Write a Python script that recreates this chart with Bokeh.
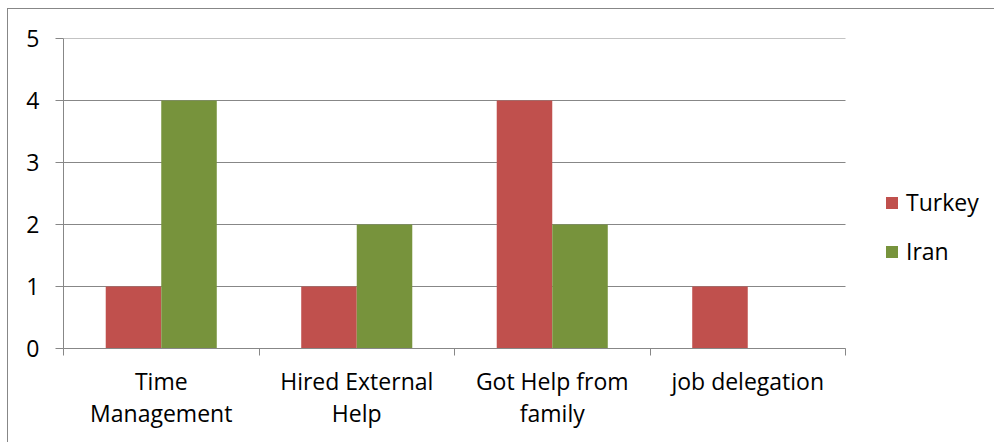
import numpy as np
from bokeh.plotting import figure
from bokeh.models import (ColumnDataSource, Range1d, LinearAxis, CustomJSTickFormatter,
                          FixedTicker, Legend, LegendItem)
from bokeh.embed import file_html
from bokeh.resources import INLINE

categories = ["Time Management", "Hired External Help", "Got Help from family", "job delegation"]
tick_labels = ["Time\nManagement", "Hired External\nHelp", "Got Help from\nfamily", "job delegation"]
turkey = [1, 1, 4, 1]
iran = [4, 2, 2, 0]
y_ticks = [0, 1, 2, 3, 4, 5]

RED = "#C0504D"
GREEN = "#77933C"
GRID = "#878787"
FONT = "Open Sans"
FS = "23px"

n = len(categories)
centers = np.arange(n) + 0.5
bw = 0.284
# the plotting area covers 782 of the 932 px frame; the rest holds the legend
x_end = n * 932 / 782

src = ColumnDataSource(dict(cat=categories, turkey=turkey, iran=iran,
                            xt=centers - bw / 2, xi=centers + bw / 2))
grid_src = ColumnDataSource(dict(y=y_ticks, x0=[0] * len(y_ticks), x1=[n] * len(y_ticks)))

p = figure(x_range=Range1d(0, x_end), y_range=Range1d(0, 5), width=987, height=434,
           output_backend="svg", toolbar_location=None,
           x_axis_location=None, y_axis_location=None,
           min_border_left=55, min_border_top=29, min_border_right=0, min_border_bottom=95)
p.styles = {"margin-left": "7px", "margin-top": "8px",
            "border-left": f"1px solid {GRID}", "border-top": f"1px solid {GRID}"}
p.outline_line_color = None
p.background_fill_color = "white"
p.border_fill_color = "white"
p.center = []

# y axis
yax = LinearAxis(ticker=FixedTicker(ticks=y_ticks))
yax.axis_line_color = GRID
yax.major_tick_line_color = GRID
yax.major_tick_out = 8
yax.major_tick_in = 0
yax.minor_tick_line_color = None
yax.major_label_standoff = 16
yax.major_label_text_font = FONT
yax.major_label_text_font_size = FS
yax.major_label_text_color = "black"
p.add_layout(yax, "left")

# boundary ticks axis (no labels)
bax = LinearAxis(ticker=FixedTicker(ticks=list(range(n + 1))), bounds=(0, n),
                 formatter=CustomJSTickFormatter(code="return ''"))
bax.axis_line_color = GRID
bax.major_tick_line_color = GRID
bax.major_tick_out = 7
bax.major_tick_in = 0
bax.minor_tick_line_color = None
bax.major_label_standoff = 0
p.add_layout(bax, "below")

# category label axis
cax = LinearAxis(ticker=FixedTicker(ticks=list(centers)), bounds=(0, n))
cax.axis_line_color = None
cax.major_tick_line_color = None
cax.minor_tick_line_color = None
cax.major_tick_out = 0
cax.major_tick_in = 0
cax.major_label_standoff = 9
cax.major_label_text_font = FONT
cax.major_label_text_font_size = FS
cax.major_label_text_color = "black"
cax.major_label_text_line_height = 1.0
cax.major_label_overrides = {float(c): t for c, t in zip(centers, tick_labels)}
p.add_layout(cax, "below")

# horizontal gridlines over the category area only
p.segment(x0="x0", x1="x1", y0="y", y1="y", source=grid_src, line_color=GRID, line_width=1)

r1 = p.vbar(x="xt", top="turkey", width=bw, source=src, fill_color=RED, line_color=None)
r2 = p.vbar(x="xi", top="iran", width=bw, source=src, fill_color=GREEN, line_color=None)

legend = Legend(items=[LegendItem(label="Turkey", renderers=[r1]),
                       LegendItem(label="Iran", renderers=[r2])],
                location=(821, 81), orientation="vertical")
legend.border_line_color = None
legend.background_fill_alpha = 0
legend.margin = 0
legend.padding = 0
legend.glyph_width = 15
legend.glyph_height = 15
legend.label_height = 20
legend.spacing = 17
legend.label_standoff = 7
legend.label_text_font = FONT
legend.label_text_font_size = FS
legend.label_text_color = "black"
legend.label_text_baseline = "middle"
p.add_layout(legend, "center")

open("out.html", "w").write(file_html(p, INLINE))
